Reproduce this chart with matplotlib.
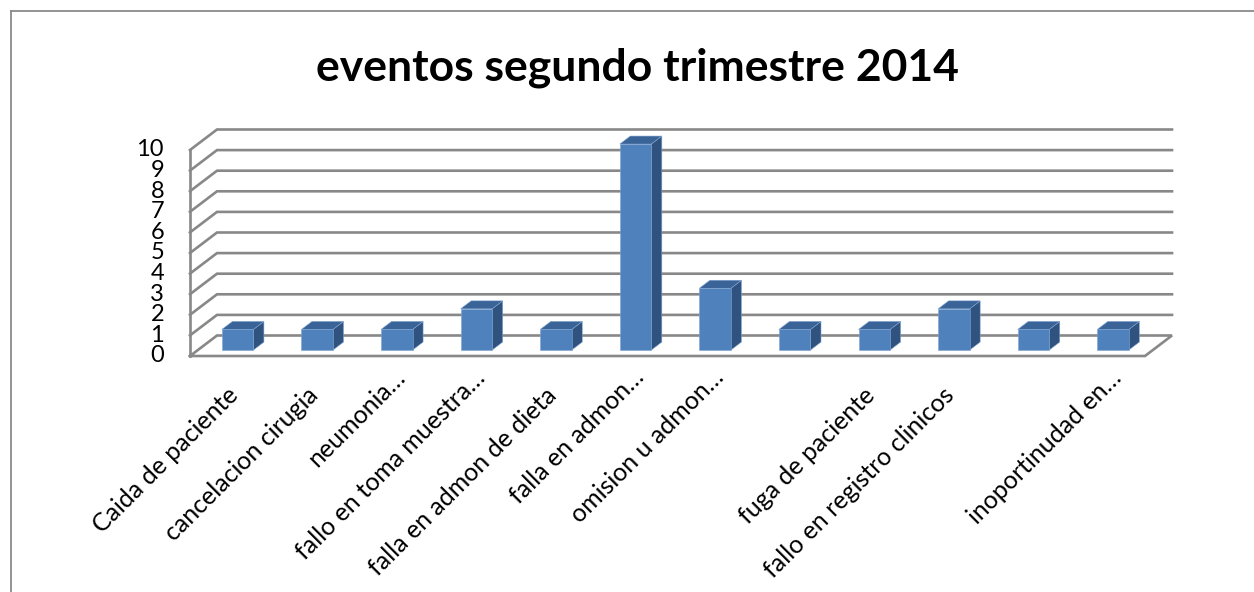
import matplotlib.pyplot as plt
from matplotlib.patches import Polygon
from matplotlib.lines import Line2D
from matplotlib.transforms import offset_copy

plt.rcParams['font.family'] = ['Lato', 'DejaVu Sans']

categories = ['Caida de paciente', 'cancelacion cirugia', 'neumonia…',
              'fallo en toma muestra…', 'falla en admon de dieta',
              'falla en admon…', 'omision u admon…', '',
              'fuga de paciente', 'fallo en registro clinicos', '',
              'inoportinudad en…']
eventos = [1, 1, 1, 2, 1, 10, 3, 1, 1, 2, 1, 1]
yticks = list(range(0, 11))
titulo = 'eventos segundo trimestre 2014'

W, H = 1254, 592
fig = plt.figure(figsize=(W / 100, H / 100), dpi=100)

# front plane of the 3d box, in pixels
x0, x1, yb, yt = 190, 1145, 356, 150
ax = fig.add_axes([x0 / W, 1 - yb / H, (x1 - x0) / W, (yb - yt) / H])
n = len(categories)
ymax = yticks[-1]
ax.set_xlim(0, n)
ax.set_ylim(0, ymax)
ax.axis('off')

px_x = (x1 - x0) / n
px_y = (yb - yt) / ymax
DX = 27 / px_x      # depth shift of the back wall, data units
DY = 20.5 / px_y


def proj(x, v, d):
    return (x + d * DX, v + d * DY)


grid_kw = dict(color='#888888', lw=1.9, solid_joinstyle='miter', clip_on=False)

# floor
floor = [proj(0, 0, 0), proj(n, 0, 0), proj(n, 0, 1), proj(0, 0, 1), proj(0, 0, 0)]
ax.plot(*zip(*floor), **grid_kw)
# side wall edge and back wall gridlines
ax.plot([0, 0], [0, ymax], **grid_kw)
for v in yticks[1:]:
    pts = [proj(0, v, 0), proj(0, v, 1), proj(n, v, 1)]
    ax.plot(*zip(*pts), **grid_kw)

# bars
bw, d0, d1 = 0.396, 0.29, 0.68
front_c, side_c, top_c = '#4f81bd', '#30527f', '#3a6497'
for i, v in enumerate(eventos):
    xl = i + (1 - bw) / 2
    xr = xl + bw
    side = [proj(xr, 0, d0), proj(xr, 0, d1), proj(xr, v, d1), proj(xr, v, d0)]
    top = [proj(xl, v, d0), proj(xr, v, d0), proj(xr, v, d1), proj(xl, v, d1)]
    front = [proj(xl, 0, d0), proj(xr, 0, d0), proj(xr, v, d0), proj(xl, v, d0)]
    for pts, c in ((side, side_c), (top, top_c), (front, front_c)):
        ax.add_patch(Polygon(pts, closed=True, fc=c, ec='#7ea3d0', lw=0.4,
                             clip_on=False, zorder=3))

# value labels along the front edge
for v in yticks:
    ax.text(-26 / px_x, v, str(v), ha='right', va='center', fontsize=17,
            clip_on=False)

# category labels, truncated ones run a little past the tick
for i, lab in enumerate(categories):
    if lab.endswith('…'):
        off = (18, -23)
    else:
        off = (10, -41)
    tr = offset_copy(ax.transData, fig=fig, x=off[0], y=off[1], units='dots')
    ax.text(i + 0.5, 0, lab, transform=tr, rotation=45,
            rotation_mode='anchor', ha='right', va='baseline', fontsize=18)

fig.text(638 / W, 1 - 68 / H, titulo, ha='center', va='center',
         fontsize=32, fontweight='bold')

# chart area border
bc = '#8a8a8a'
fig.add_artist(Line2D([11 / W, 11 / W], [0, 1 - 11 / H], color=bc, lw=1.3))
fig.add_artist(Line2D([11 / W, 1], [1 - 11 / H, 1 - 11 / H], color=bc, lw=1.3))

fig.savefig('out.png', dpi=100, facecolor='white')
